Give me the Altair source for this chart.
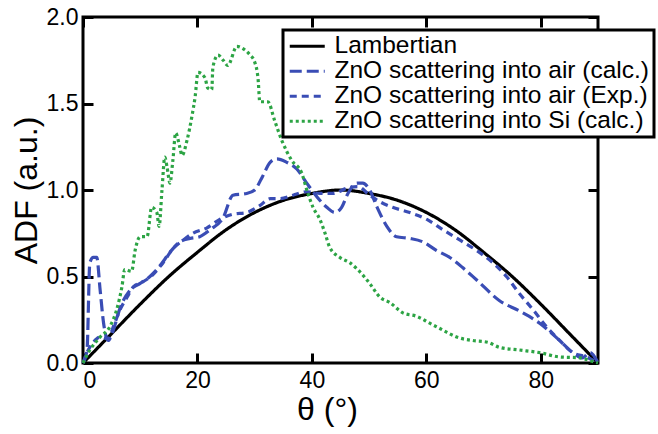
import altair as alt
import pandas as pd

series_names = [
    "Lambertian",
    "ZnO scattering into air (calc.)",
    "ZnO scattering into air (Exp.)",
    "ZnO scattering into Si (calc.)",
]
series_colors = ["#000000", "#3a4db5", "#3a4db5", "#2ca444"]
series_dashes = [[1, 0], [12, 5], [7, 5], [3, 3]]

x_ticks = [0, 20, 40, 60, 80]
y_ticks = [0.0, 0.5, 1.0, 1.5, 2.0]

lamb_theta = [0, 5, 10, 15, 20, 25, 30, 35, 40, 45, 50, 55, 60, 65, 70, 75, 80, 85, 90]
lamb_adf = [0.0, 0.17, 0.34, 0.50, 0.64, 0.77, 0.87, 0.94, 0.98, 1.0,
            0.98, 0.94, 0.87, 0.77, 0.64, 0.50, 0.34, 0.17, 0.0]

calc_theta = [0, 0.7, 1.2, 1.8, 2.4, 3.0, 3.6, 4.4, 5.3, 6.5, 8.2, 10.0, 11.7, 13.4,
              15.2, 16.9, 18.7, 20.4, 22.2, 24.5, 26.2, 28.6, 30.0, 31.4, 32.7, 33.9,
              35.6, 37.4, 39.1, 40.9, 42.6, 44.0, 45.2, 46.3, 47.9, 48.9, 50.1, 51.4,
              53.1, 54.8, 57.1, 59.4, 61.8, 64.1, 66.4, 68.8, 72.8, 76.3, 79.8, 83.3,
              85.6, 87.3, 88.6, 90]
calc_adf = [0.0, 0.075, 0.58, 0.61, 0.61, 0.42, 0.23, 0.13, 0.19, 0.32, 0.42, 0.46, 0.50, 0.56,
            0.64, 0.70, 0.72, 0.73, 0.77, 0.84, 0.97, 0.98, 1.00, 1.08, 1.16, 1.18,
            1.16, 1.12, 1.04, 0.96, 0.90, 0.87, 0.90, 0.98, 1.04, 1.04, 1.00, 0.90,
            0.79, 0.73, 0.72, 0.70, 0.65, 0.61, 0.55, 0.48, 0.36, 0.30, 0.23, 0.13,
            0.06, 0.03, 0.06, 0.0]

exp_theta = [0, 0.7, 1.8, 3.0, 4.4, 5.3, 6.5, 7.7, 8.8, 10.5, 12.2, 14.0, 15.7, 17.5,
             19.2, 21.6, 23.9, 26.2, 28.6, 30.9, 32.7, 34.4, 36.7, 39.1, 41.4, 43.7,
             46.1, 48.0, 50.1, 52.0, 54.1, 57.1, 60.1, 62.9, 65.9, 68.8, 71.6, 74.0,
             76.3, 78.6, 81.0, 83.3, 85.6, 88.0, 90]
exp_adf = [0.0, 0.06, 0.12, 0.15, 0.14, 0.21, 0.31, 0.38, 0.44, 0.47, 0.51, 0.58, 0.66, 0.71,
           0.75, 0.78, 0.83, 0.86, 0.87, 0.91, 0.95, 0.95, 0.97, 0.99, 0.98, 0.98,
           1.01, 1.02, 0.97, 0.93, 0.90, 0.87, 0.83, 0.77, 0.71, 0.65, 0.58, 0.50,
           0.40, 0.31, 0.21, 0.13, 0.06, 0.035, 0.0]

si_theta = [0, 1.2, 3.0, 4.7, 5.9, 6.8, 7.3, 8.5, 9.1, 10.0, 11.2, 12.0, 12.9, 13.3, 13.8,
            14.3, 14.7, 15.2, 15.7, 16.2, 16.9, 17.3, 18.2, 19.0, 19.6, 20.1, 21.3, 21.8,
            22.5, 22.7, 23.6, 24.5, 25.3, 26.9, 27.8, 29.2, 30.0, 30.6, 30.9, 32.3, 33.5,
            34.7, 36.5, 38.2, 39.3, 40.2, 41.4, 42.3, 43.1, 44.9, 46.6, 48.0, 50.1, 51.9,
            53.6, 55.9, 58.3, 60.6, 62.9, 65.3, 68.1, 70.7, 72.8, 76.3, 79.8, 83.3, 86.8,
            89.4, 90]
si_adf = [0.0, 0.075, 0.15, 0.21, 0.31, 0.44, 0.54, 0.53, 0.65, 0.73, 0.73, 0.90, 0.87, 0.79, 1.00,
          1.19, 1.13, 1.04, 1.17, 1.33, 1.25, 1.20, 1.29, 1.42, 1.54, 1.68, 1.65, 1.59,
          1.58, 1.71, 1.78, 1.75, 1.72, 1.83, 1.82, 1.78, 1.74, 1.64, 1.51, 1.51, 1.40,
          1.29, 1.17, 1.10, 0.98, 0.90, 0.83, 0.75, 0.67, 0.61, 0.58, 0.54, 0.46, 0.38,
          0.35, 0.29, 0.27, 0.23, 0.19, 0.15, 0.13, 0.12, 0.09, 0.075, 0.06, 0.035, 0.03,
          0.005, 0.0]

rows = []
for name, th, vals in zip(series_names,
                          [lamb_theta, calc_theta, exp_theta, si_theta],
                          [lamb_adf, calc_adf, exp_adf, si_adf]):
    for t, v in zip(th, vals):
        rows.append({"theta": t, "adf": v, "series": name})
df = pd.DataFrame(rows)

FONT = "Liberation Sans"
xscale = alt.Scale(domain=[0, 90], nice=False, zero=False)
yscale = alt.Scale(domain=[0, 2], nice=False)

legend = alt.Legend(
    orient="none", legendX=200, legendY=13, title=None,
    labelFont=FONT, labelFontSize=24.5, labelColor="black", labelLimit=1000,
    symbolType="M-3.5,0H3.5", symbolSize=100, symbolStrokeWidth=3,
    symbolOffset=8, labelOffset=15, padding=4, rowPadding=0,
    strokeColor="black", fillColor="white",
)

main = alt.Chart(df).mark_line(strokeWidth=3.2, strokeCap="butt", interpolate="monotone").encode(
    x=alt.X("theta:Q", scale=xscale, axis=alt.Axis(
        orient="bottom", values=x_ticks, title="θ (°)", grid=False, domain=False,
        offset=-10, tickSize=10, tickWidth=3, tickColor="black",
        labelFont=FONT, labelFontSize=23, labelColor="black", labelPadding=6,
        titleFont=FONT, titleFontSize=32, titleFontWeight="normal", titleColor="black",
        titlePadding=2, titleX=244)),
    y=alt.Y("adf:Q", scale=yscale, axis=alt.Axis(
        orient="left", values=y_ticks, format=".1f", title="ADF (a.u.)", grid=False, domain=False,
        offset=-10, tickSize=10, tickWidth=3, tickColor="black",
        labelFont=FONT, labelFontSize=23, labelColor="black", labelPadding=5,
        titleFont=FONT, titleFontSize=32, titleFontWeight="normal", titleColor="black",
        titlePadding=3)),
    color=alt.Color("series:N", scale=alt.Scale(domain=series_names, range=series_colors), legend=legend),
    strokeDash=alt.StrokeDash("series:N", scale=alt.Scale(domain=series_names, range=series_dashes), legend=legend),
)

frame = alt.Chart(df).mark_line(strokeOpacity=0).encode(
    x=alt.X("theta:Q", scale=xscale, axis=alt.Axis(
        orient="top", values=x_ticks, labels=False, title=None, grid=False, domain=False,
        offset=-10, tickSize=10, tickWidth=3, tickColor="black")),
    y=alt.Y("adf:Q", scale=yscale, axis=alt.Axis(
        orient="right", values=y_ticks, labels=False, title=None, grid=False, domain=False,
        offset=-10, tickSize=10, tickWidth=3, tickColor="black")),
    detail="series:N",
)

chart = alt.layer(frame, main).resolve_axis(x="independent", y="independent").properties(
    width=515, height=346,
    autosize=alt.AutoSizeParams(type="none"),
    padding={"left": 83, "top": 17, "right": 60, "bottom": 71},
    background="white",
).configure_view(stroke="black", strokeWidth=3).configure_legend(strokeWidth=3)

chart.save("out.html", embed_options={"renderer": "svg", "actions": False})
